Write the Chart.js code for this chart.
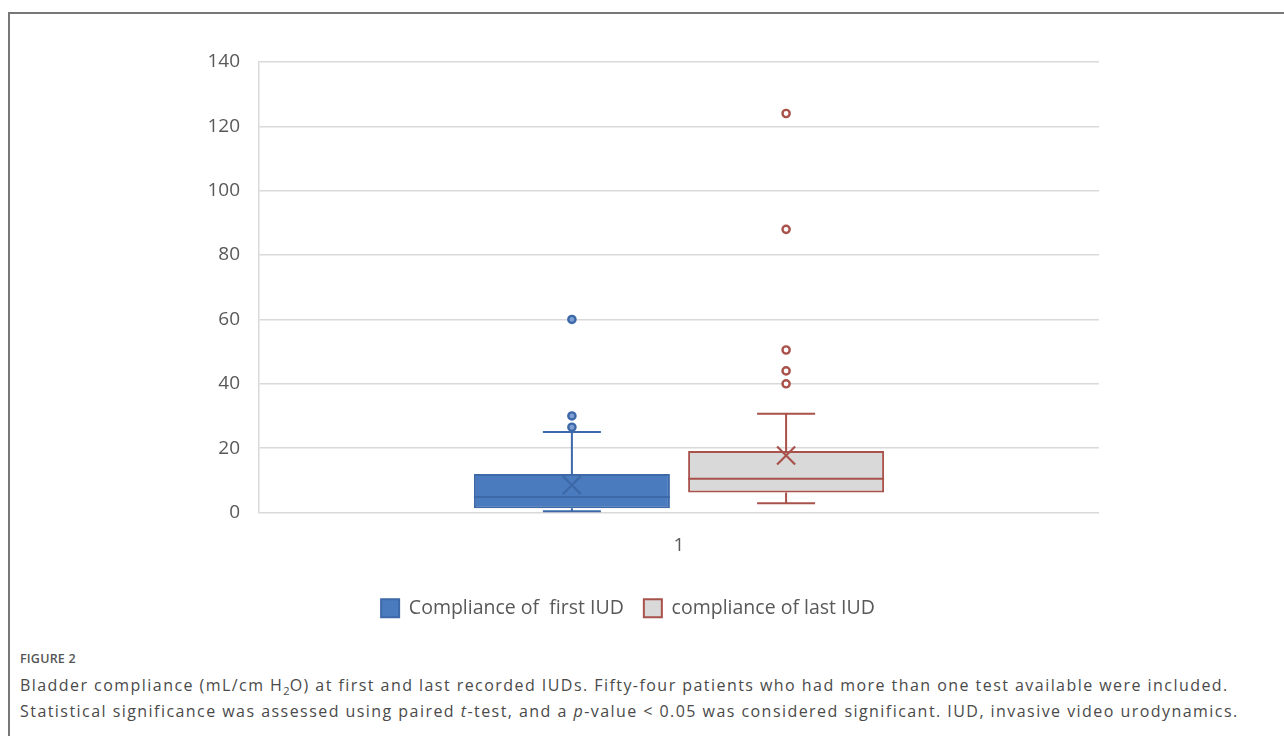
<!DOCTYPE html>
<html>
<head>
<meta charset="utf-8">
<script src="https://cdn.jsdelivr.net/npm/chart.js@4.4.1/dist/chart.umd.min.js"></script>
<style>
  html, body { margin: 0; padding: 0; background: #fff; }
  body { width: 1284px; height: 736px; position: relative; overflow: hidden; font-family: "Open Sans", sans-serif; }
  #frame { position: absolute; left: 8px; top: 12px; right: -10px; bottom: -10px; border-top: 2px solid #777; border-left: 2px solid #777; }
  #chartWrap { position: absolute; left: 0; top: 0; width: 1284px; height: 640px; }
  #figLabel { position: absolute; left: 20px; top: 650px; font-size: 12.5px; font-weight: 600; color: #555; letter-spacing: 0.2px; }
  #caption { position: absolute; left: 20px; top: 672px; width: 1264px; font-size: 16px; line-height: 26px; letter-spacing: 1.45px; color: #4a4a4a; white-space: nowrap; }
  #caption sub { font-size: 11px; line-height: 0; letter-spacing: 0; }
</style>
</head>
<body>
<div id="frame"></div>
<div id="chartWrap"><canvas id="boxChart"></canvas></div>
<div id="figLabel">FIGURE 2</div>
<div id="caption">Bladder compliance (mL/cm H<sub>2</sub>O) at first and last recorded IUDs. Fifty-four patients who had more than one test available were included.<br>Statistical significance was assessed using paired <i>t</i>-test, and a <i>p</i>-value &lt; 0.05 was considered significant. IUD, invasive video urodynamics.</div>
<script>
// data
const categories = ['1'];
const seriesNames = ['Compliance of  first IUD', 'compliance of last IUD'];
const q1Values = [1.3, 6.2];
const q3Values = [12.0, 19.1];
const medianValues = [4.8, 10.5];
const meanValues = [8.5, 17.7];
const whiskerLow = [0.4, 2.9];
const whiskerHigh = [25, 30.7];
const outliersFirst = [26.5, 30, 60];
const outliersLast = [40, 44, 50.5, 88, 124];
const yTicks = [0, 20, 40, 60, 80, 100, 120, 140];

const outlierSets = [outliersFirst, outliersLast];
const boxFill = ['#4a7bbf', '#d9d9d9'];
const boxEdge = ['#3d69a8', '#a9514b'];
const markFill = ['#7d9fd4', '#ffffff'];

// draws whiskers, medians, means and outliers on top of the floating bars
const boxExtras = {
    id: 'boxExtras',
    afterDatasetsDraw(chart) {
        const ctx = chart.ctx;
        const y = chart.scales.y;
        chart.data.datasets.forEach((ds, i) => {
            const bar = chart.getDatasetMeta(i).data[0];
            if (!bar) return;
            const x = bar.x;
            const half = bar.width / 2;
            const cap = 29;
            ctx.save();
            ctx.strokeStyle = boxEdge[i];
            ctx.lineWidth = 2;
            // whiskers
            ctx.beginPath();
            ctx.moveTo(x, y.getPixelForValue(q3Values[i]));
            ctx.lineTo(x, y.getPixelForValue(whiskerHigh[i]));
            ctx.moveTo(x - cap, y.getPixelForValue(whiskerHigh[i]));
            ctx.lineTo(x + cap, y.getPixelForValue(whiskerHigh[i]));
            ctx.moveTo(x, y.getPixelForValue(q1Values[i]));
            ctx.lineTo(x, y.getPixelForValue(whiskerLow[i]));
            ctx.moveTo(x - cap, y.getPixelForValue(whiskerLow[i]));
            ctx.lineTo(x + cap, y.getPixelForValue(whiskerLow[i]));
            ctx.stroke();
            // median
            ctx.beginPath();
            ctx.moveTo(x - half, y.getPixelForValue(medianValues[i]));
            ctx.lineTo(x + half, y.getPixelForValue(medianValues[i]));
            ctx.stroke();
            // mean marker
            const my = y.getPixelForValue(meanValues[i]);
            ctx.lineWidth = 2.2;
            ctx.beginPath();
            ctx.moveTo(x - 9, my - 9);
            ctx.lineTo(x + 9, my + 9);
            ctx.moveTo(x + 9, my - 9);
            ctx.lineTo(x - 9, my + 9);
            ctx.stroke();
            // outliers
            ctx.lineWidth = 2.4;
            ctx.fillStyle = markFill[i];
            outlierSets[i].forEach(v => {
                ctx.beginPath();
                ctx.arc(x, y.getPixelForValue(v), 3.6, 0, Math.PI * 2);
                ctx.fill();
                ctx.stroke();
            });
            ctx.restore();
        });
    }
};

document.addEventListener('DOMContentLoaded', () => {
    const canvas = document.getElementById('boxChart');
    const datasets = seriesNames.map((name, i) => ({
        label: name,
        data: [[q1Values[i], q3Values[i]]],
        backgroundColor: boxFill[i],
        borderColor: boxEdge[i],
        borderWidth: 2,
        borderSkipped: false,
        categoryPercentage: 0.51,
        barPercentage: 0.915
    }));

    new Chart(canvas, {
        type: 'bar',
        data: { labels: categories, datasets: datasets },
        plugins: [boxExtras],
        options: {
            responsive: true,
            maintainAspectRatio: false,
            animation: false,
            layout: { padding: { left: 157, right: 185, top: 62, bottom: 12 } },
            plugins: {
                tooltip: { enabled: false },
                legend: {
                    position: 'bottom',
                    labels: {
                        boxWidth: 18,
                        boxHeight: 18,
                        padding: 20,
                        color: '#595959',
                        font: { family: 'Open Sans', size: 19.5 }
                    }
                }
            },
            scales: {
                x: {
                    grid: { display: false, drawTicks: false },
                    border: { display: false },
                    ticks: { color: '#595959', padding: 22, font: { family: 'Open Sans', size: 19 } },
                    afterFit: (scale) => { scale.height = 66; }
                },
                y: {
                    min: 0,
                    max: 140,
                    afterBuildTicks: (scale) => { scale.ticks = yTicks.map(v => ({ value: v })); },
                    grid: { color: '#d9d9d9', lineWidth: 1.5, drawTicks: false },
                    border: { display: true, color: '#d9d9d9', width: 1.5 },
                    ticks: { color: '#595959', padding: 19, font: { family: 'Open Sans', size: 19 } },
                    afterFit: (scale) => { scale.width = 102; }
                }
            }
        }
    });
});
</script>
</body>
</html>
